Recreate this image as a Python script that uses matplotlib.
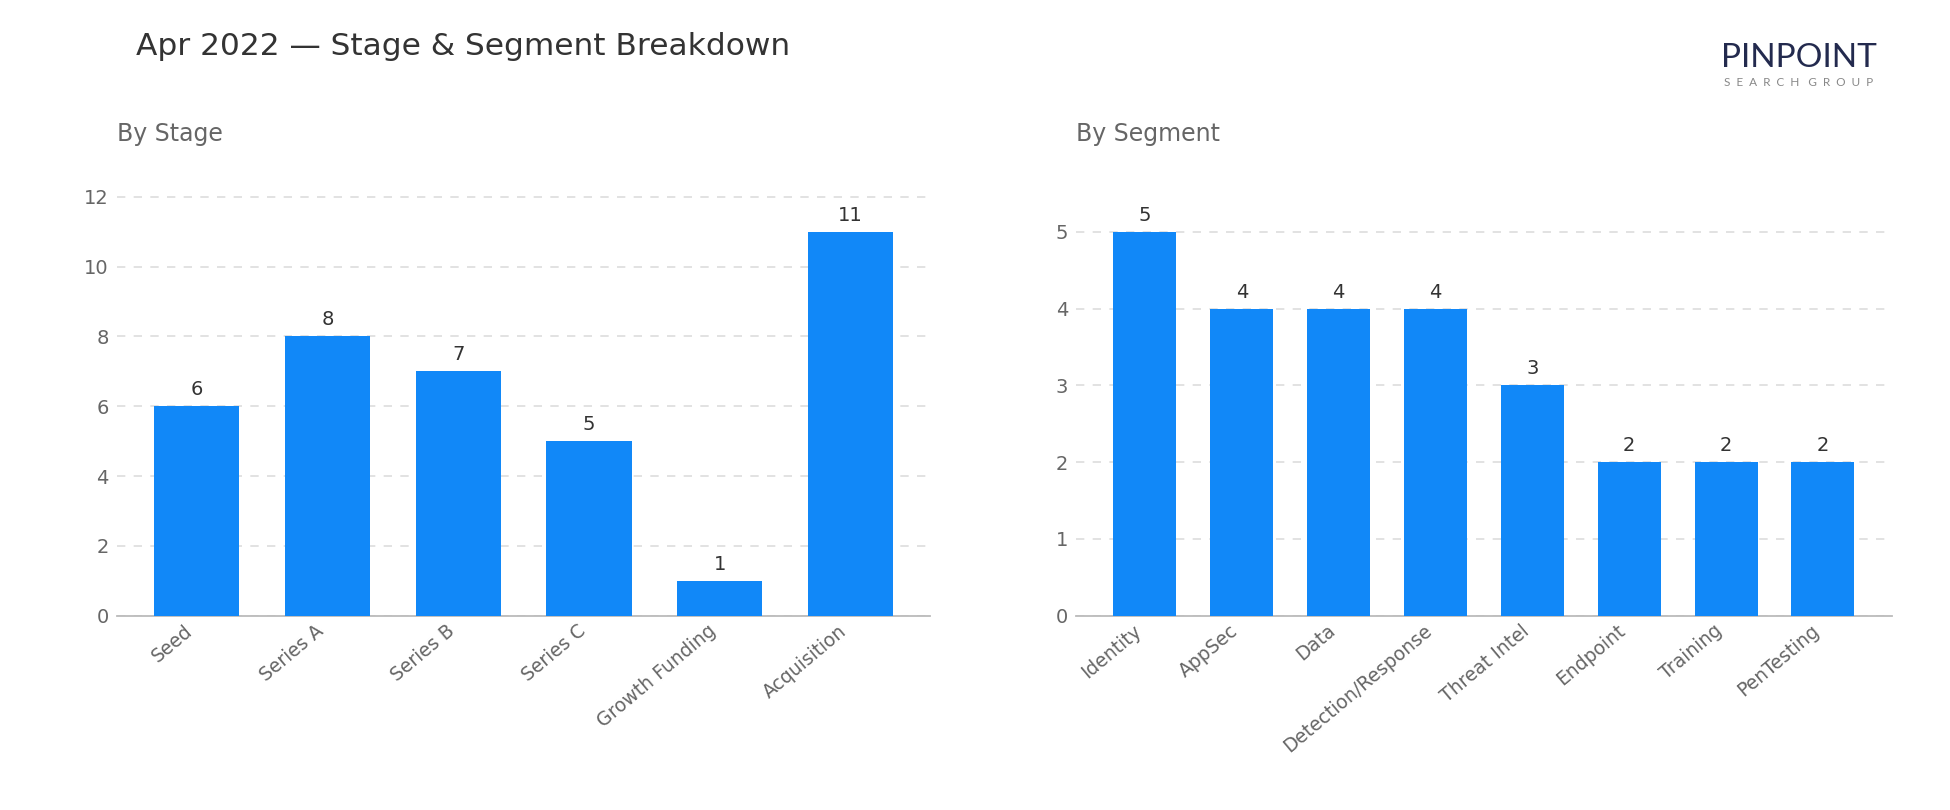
import matplotlib
matplotlib.use("Agg")
import matplotlib.pyplot as plt

stages = ["Seed", "Series A", "Series B", "Series C", "Growth Funding", "Acquisition"]
stage_counts = [6, 8, 7, 5, 1, 11]

segments = ["Identity", "AppSec", "Data", "Detection/Response", "Threat Intel",
            "Endpoint", "Training", "PenTesting"]
segment_counts = [5, 4, 4, 4, 3, 2, 2, 2]

title = "Apr 2022 \u2014 Stage & Segment Breakdown"
BAR = "#1188f8"


def bar_panel(ax, labels, values, subtitle):
    x = range(len(labels))
    bars = ax.bar(x, values, width=0.65, color=BAR, zorder=3)
    for b, v in zip(bars, values):
        ax.annotate(str(v), (b.get_x() + b.get_width() / 2, v), xytext=(0, 5),
                    textcoords="offset points", ha="center", va="bottom",
                    fontsize=14, color="#333333")
    ax.set_xticks(list(x))
    ax.set_xticklabels(labels, rotation=40, ha="right", fontsize=13.5, color="#666666")
    ax.set_ylim(0, max(values) * 1.15)
    ax.tick_params(axis="y", labelsize=14, labelcolor="#666666", length=0, pad=6)
    ax.tick_params(axis="x", length=0, pad=4)
    ax.grid(axis="y", linestyle=(0, (5, 5)), color="#dddddd", linewidth=1.2, zorder=0)
    for s in ["top", "right", "left"]:
        ax.spines[s].set_visible(False)
    ax.spines["bottom"].set_color("#bbbbbb")
    ax.spines["bottom"].set_linewidth(1.3)
    ax.set_title(subtitle, loc="left", fontsize=17, color="#666666", pad=24)


fig = plt.figure(figsize=(19.5, 8.1), dpi=100)
ax1 = fig.add_axes([0.060, 0.240, 0.417, 0.545])
ax2 = fig.add_axes([0.552, 0.240, 0.418, 0.545])
bar_panel(ax1, stages, stage_counts, "By Stage")
bar_panel(ax2, segments, segment_counts, "By Segment")

fig.text(0.070, 0.943, title, fontsize=22.5, color="#333333", va="center")

# logo
fig.text(0.9225, 0.928, "PINPOINT", fontsize=24, color="#232a4e", ha="center",
         va="center", family="Lato")
tag = "   ".join("  ".join(w) for w in ["SEARCH", "GROUP"])
fig.text(0.9225, 0.898, tag, fontsize=8.5, color="#888888",
         ha="center", va="center", family="Lato")

fig.savefig("out.png", dpi=100)
